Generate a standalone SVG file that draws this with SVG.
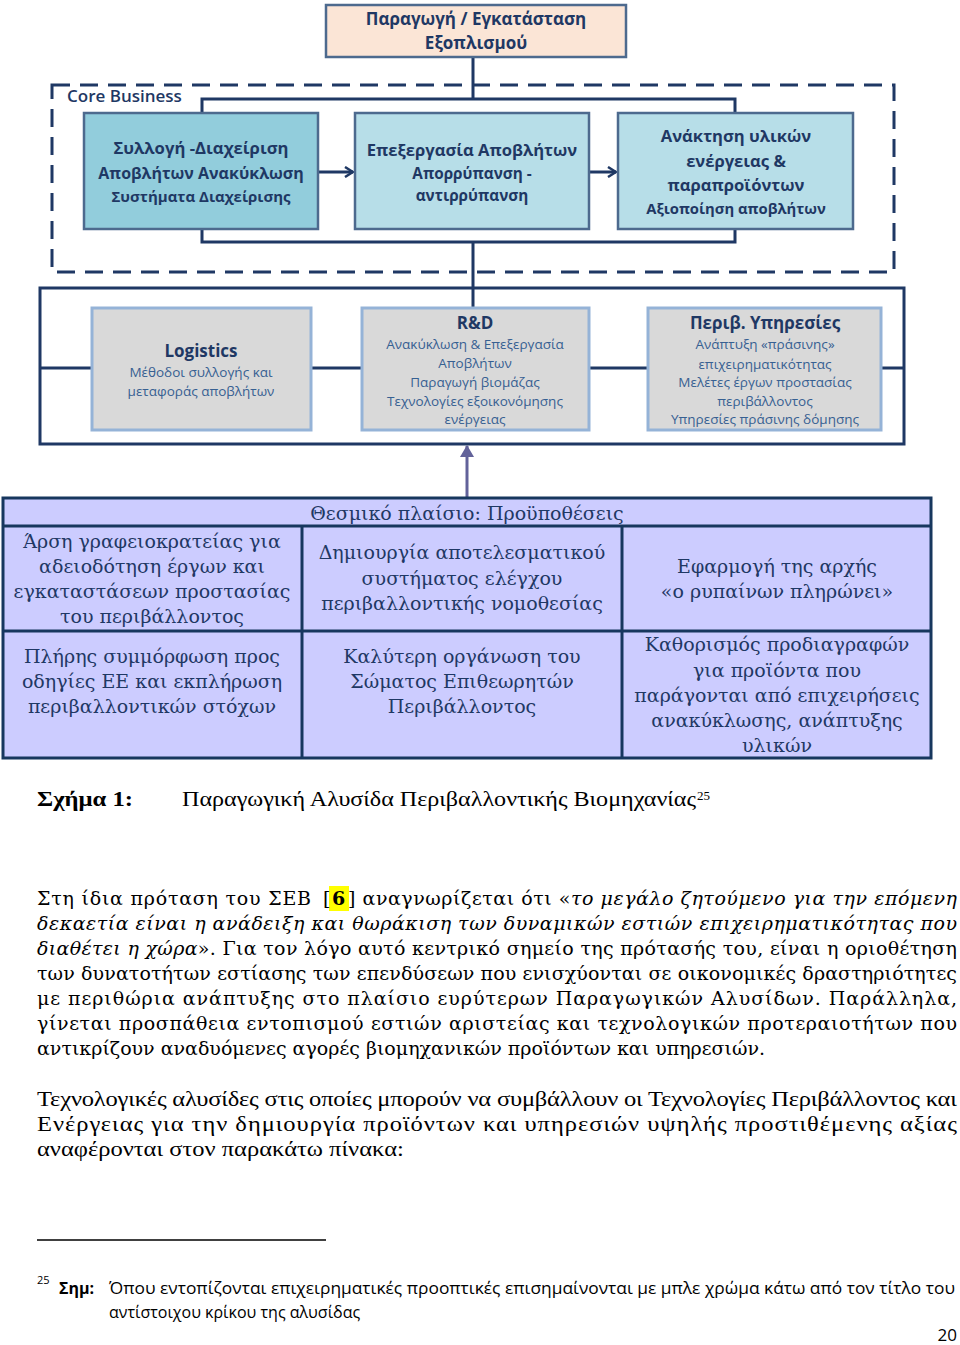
<svg xmlns="http://www.w3.org/2000/svg" width="960" height="1345" viewBox="0 0 960 1345">
<defs>
<marker id="chev" viewBox="0 0 10 12" refX="9" refY="6" markerWidth="10" markerHeight="12" markerUnits="userSpaceOnUse" orient="auto">
<path d="M1,1 L9,6 L1,11" fill="none" stroke="#1f3864" stroke-width="2.5"/>
</marker>
<marker id="tri" viewBox="0 0 12 14" refX="11" refY="7" markerWidth="12" markerHeight="14" markerUnits="userSpaceOnUse" orient="auto">
<path d="M0,0 L12,7 L0,14 Z" fill="#62629a"/>
</marker>
<style>
.sans{font-family:"Open Sans","Liberation Sans",sans-serif;}
.hd{font-family:"Open Sans","Liberation Sans",sans-serif;font-weight:700;fill:#1f3864;text-anchor:middle;}
.gt{font-family:"Open Sans","Liberation Sans",sans-serif;font-weight:700;fill:#1f3864;text-anchor:middle;font-size:17px;}
.gb{font-family:"Open Sans","Liberation Sans",sans-serif;fill:#376092;text-anchor:middle;font-size:13.5px;}
.tb{font-family:"DejaVu Serif","Liberation Serif",serif;fill:#1f3864;text-anchor:middle;font-size:19px;}
.body{font-family:"DejaVu Serif","Liberation Serif",serif;fill:#000;font-size:19px;}
.body2{font-family:"Liberation Serif",serif;fill:#000;font-size:22px;}
.sup{font-family:"Liberation Serif",serif;fill:#000;font-size:13px;}
.cn{fill:none;stroke:#1f3864;stroke-width:3;}
.blue{stroke:#4d6a8e;stroke-width:2.5;}
.gray{fill:#d9d9d9;stroke:#95b3d7;stroke-width:3;}
.cell{fill:#ccccff;stroke:#17375e;stroke-width:3;}
</style>
</defs>
<rect width="960" height="1345" fill="#ffffff"/>

<g id="connectors">
<path class="cn" d="M473,57 V99 M202,113 V99 H735 V113"/>
<path class="cn" d="M202,229 V242 H735 V229 M473,242 V308"/>
<line class="cn" x1="318" y1="172" x2="353" y2="172" marker-end="url(#chev)"/>
<line class="cn" x1="589" y1="172" x2="616" y2="172" marker-end="url(#chev)"/>
<line class="cn" x1="40" y1="368" x2="904" y2="368"/>
<line x1="467" y1="497" x2="467" y2="446" stroke="#62629a" stroke-width="3" marker-end="url(#tri)"/>
</g>

<g id="top">
<rect x="326" y="5" width="300" height="52" fill="#fbe5d6" stroke="#4d6a8e" stroke-width="2.5"/>
<text class="hd" x="476" y="25" font-size="17">Παραγωγή / Εγκατάσταση</text>
<text class="hd" x="476" y="49" font-size="17">Εξοπλισμού</text>
</g>

<g id="core">
<rect x="52" y="85" width="842" height="187" fill="none" stroke="#1f3864" stroke-width="3" stroke-dasharray="18 10"/>
<text class="sans" x="67" y="102" font-size="17" font-weight="600" fill="#1f3864">Core Business</text>
</g>

<g id="box1">
<rect x="84" y="113" width="234" height="116" fill="#92cddc" class="blue"/>
<text class="hd" x="201" y="154" font-size="16.7">Συλλογή -Διαχείριση</text>
<text class="hd" x="201" y="179" font-size="16">Αποβλήτων Ανακύκλωση</text>
<text class="hd" x="201" y="202" font-size="15">Συστήματα Διαχείρισης</text>
</g>
<g id="box2">
<rect x="355" y="113" width="234" height="116" fill="#b7dee8" class="blue"/>
<text class="hd" x="472" y="156" font-size="16.6">Επεξεργασία Αποβλήτων</text>
<text class="hd" x="472" y="179" font-size="15.3">Απορρύπανση -</text>
<text class="hd" x="472" y="201" font-size="15.3">αντιρρύπανση</text>
</g>
<g id="box3">
<rect x="618" y="113" width="235" height="116" fill="#b7dee8" class="blue"/>
<text class="hd" x="736" y="142" font-size="16.6">Ανάκτηση υλικών</text>
<text class="hd" x="736" y="167" font-size="16.6">ενέργειας &amp;</text>
<text class="hd" x="736" y="191" font-size="16.6">παραπροϊόντων</text>
<text class="hd" x="736" y="214" font-size="14.8">Αξιοποίηση αποβλήτων</text>
</g>

<g id="support">
<rect x="40" y="288" width="864" height="156" fill="none" stroke="#1f3864" stroke-width="3"/>
</g>

<g id="logistics">
<rect class="gray" x="92" y="308" width="219" height="122"/>
<text class="gt" x="201" y="357">Logistics</text>
<text class="gb" x="201" y="377">Μέθοδοι συλλογής και</text>
<text class="gb" x="201" y="396">μεταφοράς αποβλήτων</text>
</g>
<g id="rnd">
<rect class="gray" x="362" y="308" width="227" height="122"/>
<text class="gt" x="475" y="329">R&amp;D</text>
<text class="gb" x="475" y="349">Ανακύκλωση &amp; Επεξεργασία</text>
<text class="gb" x="475" y="368">Αποβλήτων</text>
<text class="gb" x="475" y="387">Παραγωγή βιομάζας</text>
<text class="gb" x="475" y="406">Τεχνολογίες εξοικονόμησης</text>
<text class="gb" x="475" y="424">ενέργειας</text>
</g>
<g id="services">
<rect class="gray" x="648" y="308" width="233" height="122"/>
<text class="gt" x="765" y="329">Περιβ. Υπηρεσίες</text>
<text class="gb" x="765" y="349">Ανάπτυξη «πράσινης»</text>
<text class="gb" x="765" y="369">επιχειρηματικότητας</text>
<text class="gb" x="765" y="387">Μελέτες έργων προστασίας</text>
<text class="gb" x="765" y="406">περιβάλλοντος</text>
<text class="gb" x="765" y="424">Υπηρεσίες πράσινης δόμησης</text>
</g>

<g id="framework">
<rect class="cell" x="3" y="498" width="928" height="260"/>
<line class="cell" x1="3" y1="526" x2="931" y2="526"/>
<line class="cell" x1="3" y1="631" x2="931" y2="631"/>
<line class="cell" x1="302" y1="526" x2="302" y2="758"/>
<line class="cell" x1="622" y1="526" x2="622" y2="758"/>
<text class="tb" x="467" y="520">Θεσμικό πλαίσιο: Προϋποθέσεις</text>
<text class="tb" x="152" y="548">Άρση γραφειοκρατείας για</text>
<text class="tb" x="152" y="573">αδειοδότηση έργων και</text>
<text class="tb" x="152" y="598">εγκαταστάσεων προστασίας</text>
<text class="tb" x="152" y="623">του περιβάλλοντος</text>
<text class="tb" x="152" y="663">Πλήρης συμμόρφωση προς</text>
<text class="tb" x="152" y="688">οδηγίες ΕΕ και εκπλήρωση</text>
<text class="tb" x="152" y="713">περιβαλλοντικών στόχων</text>
<text class="tb" x="462" y="559">Δημιουργία αποτελεσματικού</text>
<text class="tb" x="462" y="585">συστήματος ελέγχου</text>
<text class="tb" x="462" y="610">περιβαλλοντικής νομοθεσίας</text>
<text class="tb" x="462" y="663">Καλύτερη οργάνωση του</text>
<text class="tb" x="462" y="688">Σώματος Επιθεωρητών</text>
<text class="tb" x="462" y="713">Περιβάλλοντος</text>
<text class="tb" x="777" y="573">Εφαρμογή της αρχής</text>
<text class="tb" x="777" y="598">«ο ρυπαίνων πληρώνει»</text>
<text class="tb" x="777" y="651">Καθορισμός προδιαγραφών</text>
<text class="tb" x="777" y="677">για προϊόντα που</text>
<text class="tb" x="777" y="702">παράγονται από επιχειρήσεις</text>
<text class="tb" x="777" y="727">ανακύκλωσης, ανάπτυξης</text>
<text class="tb" x="777" y="752">υλικών</text>
</g>

<g id="caption">
<text class="body2" x="37" y="806" font-weight="700" textLength="96" lengthAdjust="spacingAndGlyphs">Σχήμα 1:</text>
<text class="body2" x="182" y="806" textLength="514" lengthAdjust="spacingAndGlyphs">Παραγωγική Αλυσίδα Περιβαλλοντικής Βιομηχανίας</text>
<text class="sup" x="697" y="800">25</text>
</g>

<g id="paragraph1">
<rect x="329" y="886" width="20" height="25" fill="#ffff00"/>
<text class="body" x="37" y="905" textLength="274" lengthAdjust="spacing">Στη ίδια πρόταση του ΣΕΒ</text>
<text class="body" x="323" y="905">[</text>
<text class="body" x="332" y="905" font-weight="700">6</text>
<text class="body" x="348" y="905" textLength="609" lengthAdjust="spacing">] αναγνωρίζεται ότι «<tspan font-style="italic">το μεγάλο ζητούμενο για την επόμενη</tspan></text>
<text class="body" x="37" y="930" textLength="920" lengthAdjust="spacing" font-style="italic">δεκαετία είναι η ανάδειξη και θωράκιση των δυναμικών εστιών επιχειρηματικότητας που</text>
<text class="body" x="37" y="955" textLength="920" lengthAdjust="spacing"><tspan font-style="italic">διαθέτει η χώρα</tspan>». Για τον λόγο αυτό κεντρικό σημείο της πρότασής του, είναι η οριοθέτηση</text>
<text class="body" x="37" y="980" textLength="920" lengthAdjust="spacing">των δυνατοτήτων εστίασης των επενδύσεων που ενισχύονται σε οικονομικές δραστηριότητες</text>
<text class="body" x="37" y="1005" textLength="920" lengthAdjust="spacing">με περιθώρια ανάπτυξης στο πλαίσιο ευρύτερων Παραγωγικών Αλυσίδων. Παράλληλα,</text>
<text class="body" x="37" y="1030" textLength="920" lengthAdjust="spacing">γίνεται προσπάθεια εντοπισμού εστιών αριστείας και τεχνολογικών προτεραιοτήτων που</text>
<text class="body" x="37" y="1055">αντικρίζουν αναδυόμενες αγορές βιομηχανικών προϊόντων και υπηρεσιών.</text>
</g>

<g id="paragraph2" transform="translate(37,0) scale(1.115,1)">
<text class="body2" x="0" y="1106" textLength="825" lengthAdjust="spacing">Τεχνολογικές αλυσίδες στις οποίες μπορούν να συμβάλλουν οι Τεχνολογίες Περιβάλλοντος και</text>
<text class="body2" x="0" y="1131" textLength="825" lengthAdjust="spacing">Ενέργειας για την δημιουργία προϊόντων και υπηρεσιών υψηλής προστιθέμενης αξίας</text>
<text class="body2" x="0" y="1156">αναφέρονται στον παρακάτω πίνακα:</text>
</g>

<g id="footnote">
<line x1="37" y1="1240" x2="326" y2="1240" stroke="#000" stroke-width="1.3"/>
<text class="sans" x="37" y="1284" font-size="11">25</text>
<text class="sans" x="59" y="1294" font-size="16" font-weight="700">Σημ:</text>
<text class="sans" x="109" y="1294" font-size="16" textLength="846" lengthAdjust="spacingAndGlyphs">Όπου εντοπίζονται επιχειρηματικές προοπτικές επισημαίνονται με μπλε χρώμα κάτω από τον τίτλο του</text>
<text class="sans" x="109" y="1318" font-size="16">αντίστοιχου κρίκου της αλυσίδας</text>
<text class="sans" x="957" y="1341" font-size="17" text-anchor="end">20</text>
</g>
</svg>
